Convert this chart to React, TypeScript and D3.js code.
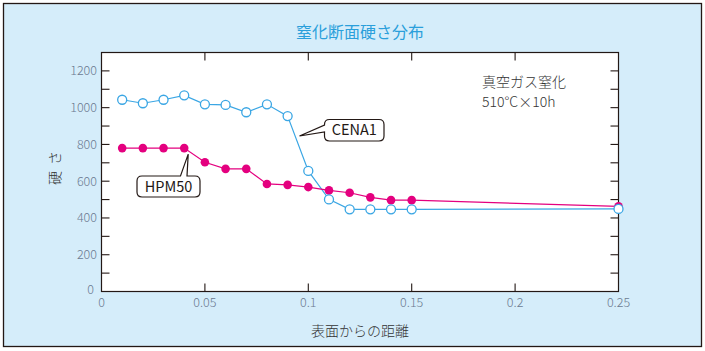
import { useEffect, useRef } from 'react'
import * as d3 from 'd3'

const distances = [0.01, 0.02, 0.03, 0.04, 0.05, 0.06, 0.07, 0.08, 0.09, 0.1, 0.11, 0.12, 0.13, 0.14, 0.15, 0.25]
const cena1 = [1043, 1024, 1043, 1067, 1018, 1015, 975, 1018, 954, 656, 501, 447, 447, 447, 447, 449]
const hpm50 = [780, 780, 780, 780, 703, 667, 667, 585, 580, 568, 550, 537, 512, 497, 497, 463]
const xTicks = [0, 0.05, 0.1, 0.15, 0.2, 0.25]
const yLabelTicks = [0, 200, 400, 600, 800, 1000, 1200]
const yMinorTicks = d3.range(100, 1300, 100)

const TITLE = '窒化断面硬さ分布'
const X_LABEL = '表面からの距離'
const Y_LABEL = '硬さ'
const NOTE = ['真空ガス窒化', '510°C×10h']

const BLUE = '#3aa6e4'
const PINK = '#e4007f'
const INK = '#231815'
const TICK_TXT = '#6b7a90'
const FONT = "'Noto Sans CJK JP', 'Noto Sans', sans-serif"

export default function App() {
  const ref = useRef<SVGSVGElement | null>(null)

  useEffect(() => {
    const svg = d3.select(ref.current)
    svg.selectAll('*').remove()

    const W = 705
    const H = 351
    const left = 101.5, right = 618.5, top = 52.5, bottom = 291.5

    svg.append('rect')
      .attr('x', 3.5).attr('y', 3.5)
      .attr('width', W - 7).attr('height', H - 8)
      .attr('fill', '#d5edfa')
      .attr('stroke', INK).attr('stroke-width', 1.3)

    const x = d3.scaleLinear().domain([0, 0.25]).range([left, right])
    const y = d3.scaleLinear().domain([0, 1300]).range([bottom, top])

    svg.append('rect')
      .attr('x', left).attr('y', top)
      .attr('width', right - left).attr('height', bottom - top)
      .attr('fill', '#fff')
      .attr('stroke', INK).attr('stroke-width', 1.2)

    // inward ticks on all four sides
    const g = svg.append('g').attr('stroke', INK).attr('stroke-width', 1.1)
    yMinorTicks.forEach(v => {
      g.append('line').attr('x1', left).attr('x2', left + 8).attr('y1', y(v)).attr('y2', y(v))
      g.append('line').attr('x1', right).attr('x2', right - 8).attr('y1', y(v)).attr('y2', y(v))
    })
    xTicks.slice(1, -1).forEach(v => {
      g.append('line').attr('x1', x(v)).attr('x2', x(v)).attr('y1', top).attr('y2', top + 8)
      g.append('line').attr('x1', x(v)).attr('x2', x(v)).attr('y1', bottom).attr('y2', bottom - 8)
    })

    svg.append('g')
      .selectAll('text')
      .data(yLabelTicks)
      .enter().append('text')
      .attr('x', d => d === 0 ? 94 : 97)
      .attr('y', d => y(d) - (d === 0 ? 2 : 0))
      .attr('dy', '0.35em')
      .attr('text-anchor', 'end')
      .attr('font-family', FONT)
      .attr('font-weight', 300)
      .attr('font-size', 12.5)
      .attr('fill', TICK_TXT)
      .text(d => d)

    svg.append('g')
      .selectAll('text')
      .data(xTicks)
      .enter().append('text')
      .attr('x', d => x(d))
      .attr('y', 303)
      .attr('dy', '0.35em')
      .attr('text-anchor', 'middle')
      .attr('font-family', FONT)
      .attr('font-weight', 300)
      .attr('font-size', 12.5)
      .attr('fill', TICK_TXT)
      .text(d => d)

    svg.append('text')
      .attr('x', (left + right) / 2).attr('y', 32)
      .attr('dy', '0.35em')
      .attr('text-anchor', 'middle')
      .attr('font-family', FONT)
      .attr('font-size', 16)
      .attr('fill', '#2a9fdb')
      .text(TITLE)

    svg.append('text')
      .attr('x', (left + right) / 2).attr('y', 331)
      .attr('dy', '0.35em')
      .attr('text-anchor', 'middle')
      .attr('font-family', FONT)
      .attr('font-weight', 300)
      .attr('font-size', 14)
      .attr('fill', '#333')
      .text(X_LABEL)

    svg.append('text')
      .attr('transform', 'translate(55,165) rotate(-90)')
      .attr('dy', '0.35em')
      .attr('text-anchor', 'middle')
      .attr('font-family', FONT)
      .attr('font-weight', 300)
      .attr('font-size', 14)
      .attr('letter-spacing', 6)
      .attr('fill', '#333')
      .text(Y_LABEL)

    NOTE.forEach((t, i) => {
      svg.append('text')
        .attr('x', 482).attr('y', 87 + i * 20)
        .attr('font-family', FONT)
        .attr('font-weight', 300)
        .attr('font-size', 14)
        .attr('fill', '#333')
        .text(t)
    })

    const line = d3.line<number>()
      .x((_, i) => x(distances[i]))
      .y(d => y(d))

    svg.append('path').datum(cena1)
      .attr('d', line).attr('fill', 'none')
      .attr('stroke', BLUE).attr('stroke-width', 1.2)
    svg.append('path').datum(hpm50)
      .attr('d', line).attr('fill', 'none')
      .attr('stroke', PINK).attr('stroke-width', 1.2)

    svg.append('g').selectAll('circle')
      .data(hpm50).enter().append('circle')
      .attr('cx', (_, i) => x(distances[i]))
      .attr('cy', d => y(d))
      .attr('r', 4.3)
      .attr('fill', PINK)

    svg.append('g').selectAll('circle')
      .data(cena1).enter().append('circle')
      .attr('cx', (_, i) => x(distances[i]))
      .attr('cy', d => y(d))
      .attr('r', 4.5)
      .attr('fill', '#fff')
      .attr('stroke', BLUE).attr('stroke-width', 1.3)

    // callouts
    const callout = (L: number, T: number, R: number, B: number, side: 'top' | 'left',
      a: number, b: number, tip: [number, number], label: string) => {
      const r = 5
      let d = ''
      if (side === 'top') {
        d = `M${L + r},${T} H${a} L${tip[0]},${tip[1]} L${b},${T} H${R - r} Q${R},${T} ${R},${T + r} V${B - r} Q${R},${B} ${R - r},${B} H${L + r} Q${L},${B} ${L},${B - r} V${T + r} Q${L},${T} ${L + r},${T} Z`
      } else {
        d = `M${L + r},${T} H${R - r} Q${R},${T} ${R},${T + r} V${B - r} Q${R},${B} ${R - r},${B} H${L + r} Q${L},${B} ${L},${B - r} V${b} L${tip[0]},${tip[1]} L${L},${a} V${T + r} Q${L},${T} ${L + r},${T} Z`
      }
      svg.append('path').attr('d', d)
        .attr('fill', '#fff').attr('stroke', INK).attr('stroke-width', 1.2)
      svg.append('text')
        .attr('x', (L + R) / 2).attr('y', (T + B) / 2)
        .attr('dy', '0.36em')
        .attr('text-anchor', 'middle')
        .attr('font-family', FONT)
        .attr('font-size', 14.5)
        .attr('fill', INK)
        .text(label)
    }

    callout(137, 176, 200, 197, 'top', 180.5, 187, [x(0.04) + 4, y(hpm50[3]) + 6], 'HPM50')
    callout(324.5, 119.5, 384, 141, 'left', 125, 132, [299.5, 136], 'CENA1')
  }, [])

  return (
    <svg ref={ref} width={705} height={351}
      style={{ position: 'absolute', left: 0, top: 0, display: 'block' }} />
  )
}
